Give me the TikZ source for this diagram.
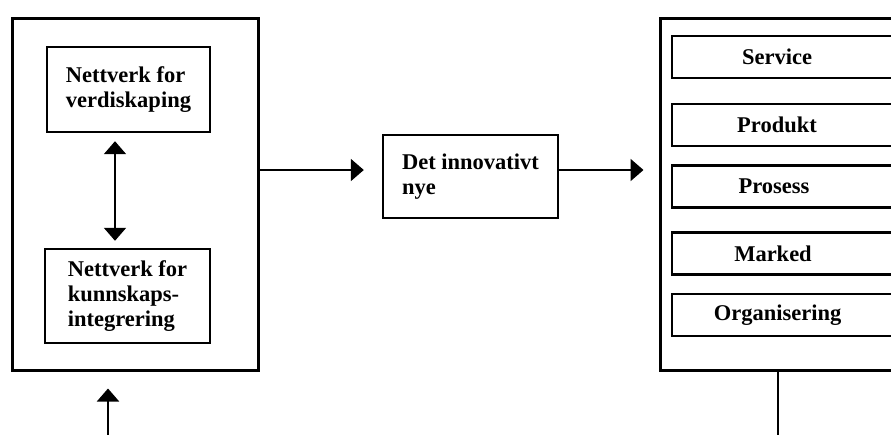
\documentclass[tikz,border=0pt]{standalone}
\usepackage{fontspec}
\setmainfont{Liberation Serif}
\usetikzlibrary{arrows.meta}
\begin{document}
\begin{tikzpicture}[x=1pt,y=-1pt,
  font=\fontsize{22.5}{25}\selectfont\bfseries,
  outerbox/.style={draw,line width=3pt,inner sep=0pt},
  innerbox/.style={draw,line width=2.4pt,inner sep=0pt,align=left},
  itembox/.style={draw,line width=2.4pt,inner sep=0pt,minimum width=240pt,minimum height=42pt},
  arr/.style={line width=2pt,-{Triangle[length=13pt,width=22pt]}},
  darr/.style={line width=2pt,{Triangle[length=13pt,width=22pt]}-{Triangle[length=13pt,width=22pt]}},
  plain/.style={line width=2pt}]
\useasboundingbox (0,0) rectangle (891,434);
\clip (0,0) rectangle (891,434);
\fill[white] (0,0) rectangle (891,434);

% left container with the two networks
\node[outerbox,minimum width=246pt,minimum height=352pt] (L) at (135,194) {};
\node[innerbox,minimum width=163pt,minimum height=85pt] (V) at (128.5,89.5) {Nettverk for\\verdiskaping};
\node[innerbox,minimum width=165pt,minimum height=94pt] (K) at (127.5,296) {Nettverk for\\kunnskaps-\\integrering};
\draw[darr] ([xshift=-13.5pt,yshift=-8pt]V.south) -- ([xshift=-12.5pt,yshift=7pt]K.north);

% centre box
\node[innerbox,minimum width=175pt,minimum height=83pt] (M) at (470.5,176.5) {Det innovativt\\nye};

% right container with the kinds of innovation
\node[outerbox,minimum width=300pt,minimum height=352pt] (R) at (810,194) {};
\node[itembox,label={[xshift=-15pt]center:Service}] (S1) at (792,57) {};
\node[itembox,label={[xshift=-15pt]center:Produkt}] (S2) at (792,125) {};
\node[itembox,label={[xshift=-18pt]center:Prosess}] (S3) at (792,186.5) {};
\node[itembox,label={[xshift=-19pt]center:Marked}] (S4) at (792,253.5) {};
\node[itembox,label={[xshift=-14.5pt]center:Organisering}] (S5) at (792,315) {};

% flow arrows
\coordinate (ay) at (0,170);
\draw[arr] (L.east |- ay) -- ([xshift=-18pt]M.west |- ay);
\draw[arr] (M.east |- ay) -- ([xshift=-15pt]R.west |- ay);

% feedback loop ends
\coordinate (fb) at (778,440);
\coordinate (fa) at (108,440);
\draw[plain] (R.south -| fb) -- (fb);
\draw[arr] (fa) -- ([yshift=-17pt]L.south -| fa);
\end{tikzpicture}
\end{document}
